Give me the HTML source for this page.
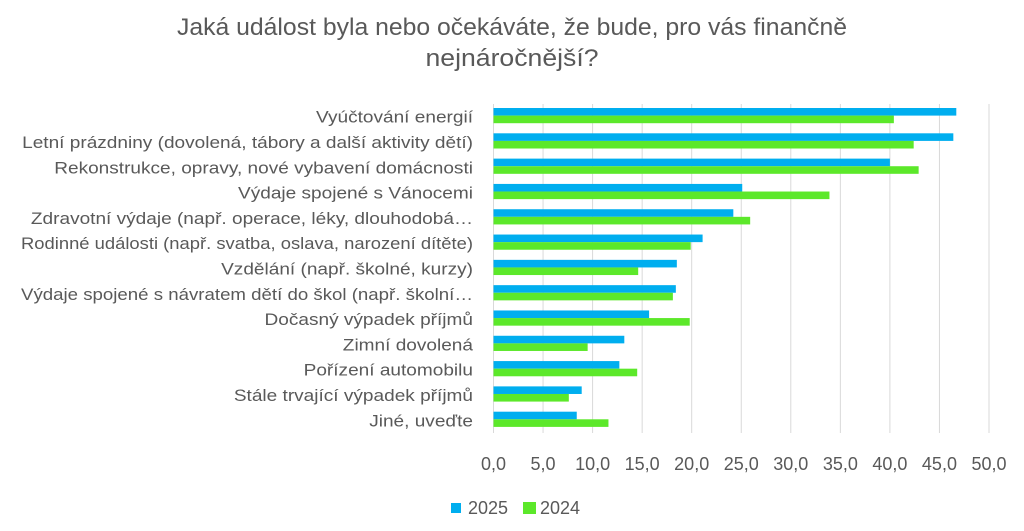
<!DOCTYPE html>
<html><head><meta charset="utf-8">
<style>
html,body{margin:0;padding:0;background:#fff;}
svg{display:block;font-family:"Liberation Sans",sans-serif;}
</style></head>
<body>
<svg id="chart" width="1024" height="531" viewBox="0 0 1024 531">
  <text x="512" y="35" text-anchor="middle" font-size="24" fill="#595959" textLength="670" lengthAdjust="spacingAndGlyphs">Jaká událost byla nebo očekáváte, že bude, pro vás finančně</text>
  <text x="512" y="66" text-anchor="middle" font-size="24" fill="#595959" textLength="173" lengthAdjust="spacingAndGlyphs">nejnáročnější?</text>
  <g id="grid"></g>
  <g id="bars"></g>
  <g id="cats"></g>
  <g id="ticks"></g>
  <g>
    <rect x="451" y="503" width="10" height="10" fill="#00AEEF"/>
    <text x="468" y="514" font-size="18" fill="#595959">2025</text>
    <rect x="523" y="502" width="13" height="12" fill="#5CE82A"/>
    <text x="540" y="514" font-size="18" fill="#595959">2024</text>
  </g>
</svg>
<script>
const categories = [
  "Vyúčtování energií",
  "Letní prázdniny (dovolená, tábory a další aktivity dětí)",
  "Rekonstrukce, opravy, nové vybavení domácnosti",
  "Výdaje spojené s Vánocemi",
  "Zdravotní výdaje (např. operace, léky, dlouhodobá…",
  "Rodinné události (např. svatba, oslava, narození dítěte)",
  "Vzdělání (např. školné, kurzy)",
  "Výdaje spojené s návratem dětí do škol (např. školní…",
  "Dočasný výpadek příjmů",
  "Zimní dovolená",
  "Pořízení automobilu",
  "Stále trvající výpadek příjmů",
  "Jiné, uveďte"
];
const values2025 = [46.7, 46.4, 40.0, 25.1, 24.2, 21.1, 18.5, 18.4, 15.7, 13.2, 12.7, 8.9, 8.4];
const values2024 = [40.4, 42.4, 42.9, 33.9, 25.9, 19.9, 14.6, 18.1, 19.8, 9.5, 14.5, 7.6, 11.6];
const tickValues = [0, 5, 10, 15, 20, 25, 30, 35, 40, 45, 50];
const tickLabels = ["0,0","5,0","10,0","15,0","20,0","25,0","30,0","35,0","40,0","45,0","50,0"];

const NS = "http://www.w3.org/2000/svg";
const x0 = 493.5, x1 = 989, xMax = 50;
const yTop = 104, yBot = 433;
const band = (yBot - yTop) / categories.length;
const barH = 7.6;
function xs(v){ return x0 + (v / xMax) * (x1 - x0); }
function yb(i){ return yTop + i * band; }
function mk(tag, attrs){ const e = document.createElementNS(NS, tag); for (const k in attrs) e.setAttribute(k, attrs[k]); return e; }

const grid = document.getElementById('grid');
const ticks = document.getElementById('ticks');
tickValues.forEach((t, i) => {
  const l = mk('line', {x1: xs(t), x2: xs(t), y1: yTop, y2: yBot, stroke: '#d9d9d9', 'stroke-width': 1});
  
  
  grid.appendChild(l);
  const tx = mk('text', {x: xs(t), y: 470, 'text-anchor': 'middle', 'font-size': 18, fill: '#595959'});
  tx.textContent = tickLabels[i];
  
  
  ticks.appendChild(tx);
});

const bars = document.getElementById('bars');
const cats = document.getElementById('cats');
categories.forEach((c, i) => {
  const y = yb(i) + 4;
  const b1 = mk('rect', {x: x0, y: y, width: xs(values2025[i]) - x0, height: barH, fill: '#00AEEF'});
  
  
  bars.appendChild(b1);
  const b2 = mk('rect', {x: x0, y: y + barH, width: xs(values2024[i]) - x0, height: barH, fill: '#5CE82A'});
  
  
  bars.appendChild(b2);
  const t = mk('text', {x: 473, y: yb(i) + band / 2 + 6, 'text-anchor': 'end', 'font-size': 17, fill: '#595959'});
  t.textContent = c;
  
  
  cats.appendChild(t);
  const w = t.getComputedTextLength();
  const target = Math.min(w * 1.12, 452);
  t.setAttribute('textLength', target);
  t.setAttribute('lengthAdjust', 'spacingAndGlyphs');
});
</script>
</body></html>
